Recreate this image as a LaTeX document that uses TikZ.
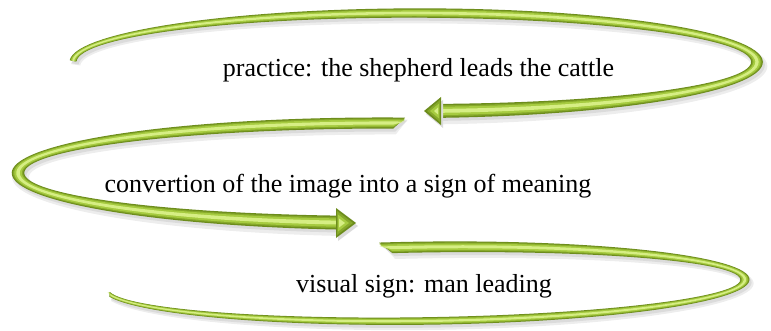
\documentclass[tikz,border=0pt]{standalone}
\usepackage{fontspec}
\setmainfont{Liberation Serif}
\definecolor{gdark}{HTML}{6C8C1C}
\definecolor{gedge}{HTML}{86A82A}
\definecolor{gmid}{HTML}{A6CB40}
\definecolor{glight}{HTML}{D6EE84}
\newcommand{\bandpath}{%
 plot[domain=0:1,samples=90,variable=\s] ({\bcx+(\bra+\bww*(\bwA+(\bwB-\bwA)*\s)/2)*cos(\boA+(\boB-\boA)*\s)},{\bcy+(\brb+\bww*(\bwA+(\bwB-\bwA)*\s)/2)*sin(\boA+(\boB-\boA)*\s)})
 -- plot[domain=0:1,samples=90,variable=\s] ({\bcx+(\bra-\bww*(\bwB+(\bwA-\bwB)*\s)/2)*cos(\biB+(\biA-\biB)*\s)},{\bcy+(\brb-\bww*(\bwB+(\bwA-\bwB)*\s)/2)*sin(\biB+(\biA-\biB)*\s)}) -- cycle}
\newcommand{\greenband}{%
 \def\bww{1.35}\fill[black!7,shift={(2.5,-4)}] \bandpath;
 \def\bww{1}\fill[black!14,shift={(2,-3)}] \bandpath;
 \fill[gdark] \bandpath;
 \def\bww{0.8}\fill[gedge] \bandpath;
 \def\bww{0.6}\fill[gmid] \bandpath;
 \def\bww{0.28}\fill[glight] \bandpath;
}
\begin{document}
\begin{tikzpicture}[x=1pt,y=1pt,
  lbl/.style={font=\fontsize{26}{30}\selectfont, inner sep=0pt, anchor=base, text=black}]
\useasboundingbox (0,0) rectangle (771,330);
% arrow 1 (top)
\def\bcx{415}\def\bcy{268}\def\bra{342}\def\brb{49}
\def\boA{178}\def\boB{-86}\def\biA{179.5}\def\biB{-86}\def\bwA{7}\def\bwB{14}
\greenband
\fill[black!14] (426,216) -- (443,230) -- (443,202) -- cycle;
\fill[gdark] (424,219) -- (441,233) -- (441,205) -- cycle;
\fill[gedge] (427,219) -- (440,230) -- (440,208) -- cycle;
\fill[gmid] (430,219) -- (439,226.5) -- (439,211.5) -- cycle;
\fill[glight] (434,219) -- (438,222.5) -- (438,215.5) -- cycle;
% arrow 2 (middle)
\def\bcx{385}\def\bcy{157}\def\bra{367}\def\brb{50}
\def\boA{86.9}\def\boB{262.6}\def\biA{88.6}\def\biB{262.6}\def\bwA{11}\def\bwB{14}
\greenband
\fill[black!14] (358,104) -- (338,119) -- (338,89) -- cycle;
\fill[gdark] (356,107) -- (336,122) -- (336,92) -- cycle;
\fill[gedge] (353,107) -- (337,119) -- (337,95) -- cycle;
\fill[gmid] (349,107) -- (338,115.5) -- (338,98.5) -- cycle;
\fill[glight] (345,107) -- (339,111.5) -- (339,102.5) -- cycle;
% arrow 3 (bottom)
\begin{scope}[rotate around={0.8:(425,46)}]
\def\bcx{425}\def\bcy{46}\def\bra{320}\def\brb{37}
\def\boA{98}\def\boB{-168}\def\biA{96}\def\biB{-174}\def\bwA{11}\def\bwB{6}
\greenband
\end{scope}
% labels
\node[lbl] (t1) at (418.5,253) {practice: the shepherd leads the cattle};
\node[lbl] (t2) at (348,138) {convertion of the image into a sign of meaning};
\node[lbl] (t3) at (424,38) {visual sign: man leading};
\end{tikzpicture}
\end{document}
